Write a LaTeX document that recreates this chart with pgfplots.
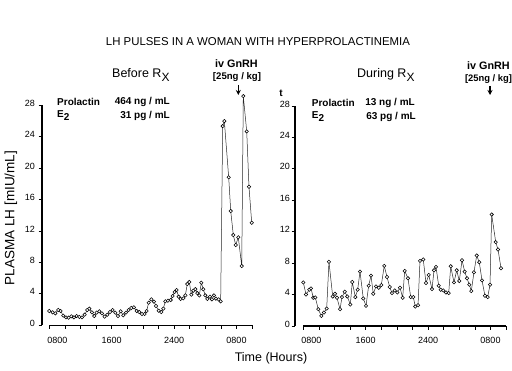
\documentclass[border=0pt]{standalone}
\usepackage{fontspec}
\setmainfont{Liberation Sans}
\usepackage{pgfplots}
\pgfplotsset{compat=1.18}
\usepackage{pgfplotstable}
\usetikzlibrary{arrows.meta}

\pgfplotstableread{
h v
8.00 1.82
8.43 1.65
8.77 1.52
9.15 1.95
9.45 1.82
9.79 1.23
10.14 1.01
10.48 0.97
10.82 1.14
11.16 1.01
11.50 1.18
11.85 1.06
12.19 1.01
12.53 1.35
12.87 1.95
13.13 2.12
13.47 1.65
13.77 1.18
14.07 1.61
14.41 1.78
14.75 1.52
15.09 1.10
15.44 1.35
15.78 1.69
16.12 1.95
16.46 1.61
16.80 1.18
17.15 1.78
17.49 1.27
17.83 1.61
18.17 1.95
18.51 2.20
18.85 2.29
19.20 1.82
19.54 1.69
19.88 1.44
20.22 1.44
20.48 1.82
20.74 2.88
21.08 3.30
21.42 3.01
21.68 2.46
22.02 1.86
22.36 1.69
22.62 2.12
22.87 3.05
23.21 3.13
23.56 3.22
23.81 3.73
24.07 4.24
24.32 4.49
24.58 3.64
24.84 3.35
25.18 3.43
25.44 3.81
25.69 5.25
25.95 5.51
26.21 3.90
26.46 4.40
26.72 4.60
26.97 4.10
27.23 3.80
27.49 5.42
27.74 4.58
28.00 3.81
28.26 3.35
28.60 3.64
28.85 3.30
29.11 3.81
29.37 3.39
29.71 3.30
29.97 3.05
30.23 25.35
30.44 25.99
31.00 18.83
31.26 14.54
31.59 11.49
31.90 10.22
32.23 11.20
32.67 7.54
32.87 29.17
33.31 24.68
33.60 17.63
33.95 13.05
}\leftdata

\pgfplotstableread{
h v
8.00 5.55
8.35 4.01
8.77 4.62
8.99 4.79
9.28 3.59
9.54 3.63
9.92 2.14
10.31 1.28
10.65 1.71
11.00 2.22
11.29 8.17
11.77 3.76
12.06 4.10
12.32 3.59
12.71 2.14
12.96 3.68
13.31 4.36
13.64 3.76
14.03 2.73
14.28 5.60
14.67 3.68
14.97 4.62
15.27 6.92
15.69 3.50
16.04 2.56
16.38 5.13
16.68 6.41
16.97 4.10
17.32 5.04
17.67 4.87
18.00 5.21
18.38 7.65
18.73 6.24
19.08 4.96
19.37 4.19
19.72 4.53
20.05 4.27
20.40 4.87
20.74 3.59
21.00 7.01
21.42 6.07
21.77 3.68
22.10 3.68
22.36 2.48
22.71 2.65
22.96 8.29
23.38 8.46
23.73 5.47
24.08 6.50
24.50 4.70
24.76 7.09
25.01 7.52
25.36 5.13
25.62 4.62
25.95 4.53
26.29 4.27
26.64 4.19
26.90 7.60
27.32 5.55
27.67 7.09
28.00 5.73
28.35 8.37
28.69 6.92
28.99 6.07
29.28 5.26
29.54 4.45
29.88 6.83
30.23 8.97
30.56 8.12
30.91 5.81
31.29 3.85
31.64 3.68
31.94 5.26
32.15 14.19
32.67 10.68
32.96 9.74
33.35 7.35
}\rightdata

\begin{document}
\begin{tikzpicture}[x=1pt,y=1pt]
\useasboundingbox (0pt,0pt) rectangle (512pt,370pt);
\pgfplotsset{
  panel/.style={
    scale only axis, anchor=south west, height=220pt,
    ymin=0, ymax=28, xmax=34, clip=false,
    axis line style={draw=none},
    tick align=outside, xtick pos=bottom, ytick pos=left,
    xtick={8,10,...,34},
    xticklabels={\makebox[0pt][l]{\hspace{-2pt}0800},,,,1600,,,,2400,,,,0800,,},
    ytick={0,4,...,28},
    major tick length=3.5pt,
    tick style={black, line width=0.8pt},
    tick label style={font=\fontsize{9}{10}\selectfont},
    xticklabel style={yshift=-4.5pt},
    yticklabel style={yshift=2pt},
    /pgf/number format/assume math mode=true,
  },
  pts/.style={black!85, line width=0.5pt, mark=*, mark size=1.7pt,
    mark options={fill=white, draw=black, line width=0.55pt}},
}
% left panel
\begin{axis}[panel, at={(42pt,44.7pt)}, width=210.1pt, xmin=7.064]
\draw[line width=1.8pt] (rel axis cs:0,0) -- (rel axis cs:0,1);
\draw[line width=1.4pt] (axis cs:8,0) -- (axis cs:34,0);
\addplot[pts] table[x=h,y=v] {\leftdata};
\end{axis}
% right panel
\begin{axis}[panel, at={(295pt,44pt)}, width=211.1pt, xmin=6.936,
  yticklabel style={xshift=2pt}]
\draw[line width=1.8pt] (rel axis cs:0,0) -- (rel axis cs:0,1);
\draw[line width=1.4pt] (axis cs:8,0) -- (axis cs:34,0);
\addplot[pts] table[x=h,y=v] {\rightdata};
\end{axis}

% title and labels
\node[font=\fontsize{11.4}{13}\selectfont] at (258pt,328pt) {LH PULSES IN A WOMAN WITH HYPERPROLACTINEMIA};
\node[rotate=90, font=\fontsize{13.5}{15}\selectfont] at (11pt,152pt) {PLASMA LH [mIU/mL]};
\node[font=\fontsize{12.5}{14}\selectfont] at (271pt,12pt) {Time (Hours)};

% panel headings
\node[anchor=west, font=\fontsize{12.5}{14}\selectfont, inner sep=0pt] at (112pt,295pt) {Before R\raisebox{-0.55ex}{\fontsize{12}{13}\selectfont X}};
\node[anchor=west, font=\fontsize{12.5}{14}\selectfont, inner sep=0pt] at (357pt,295pt) {During R\raisebox{-0.55ex}{\fontsize{12}{13}\selectfont X}};

% hormone values, left
\begin{scope}[font=\fontsize{10}{12}\selectfont\bfseries]
\node[anchor=west, inner sep=0pt] at (57pt,268.3pt) {Prolactin};
\node[anchor=east, inner sep=0pt] at (170pt,268.3pt) {464 ng / mL};
\node[anchor=west, inner sep=0pt] at (57pt,254.5pt) {E\raisebox{-0.45ex}{2}};
\node[anchor=east, inner sep=0pt] at (170pt,254.5pt) {31 pg / mL};
% right
\node[anchor=west, inner sep=0pt] at (311.7pt,267.3pt) {Prolactin};
\node[anchor=east, inner sep=0pt] at (415pt,267.3pt) {13 ng / mL};
\node[anchor=west, inner sep=0pt] at (311.7pt,253.5pt) {E\raisebox{-0.45ex}{2}};
\node[anchor=east, inner sep=0pt] at (416pt,253.5pt) {63 pg / mL};
% GnRH annotations
\node[inner sep=0pt, font=\fontsize{10.8}{12}\selectfont\bfseries] at (236.5pt,306pt) {iv GnRH};
\node[inner sep=0pt, font=\fontsize{9.6}{11}\selectfont\bfseries] at (237pt,293pt) {[25ng / kg]};
\node[inner sep=0pt, font=\fontsize{10.8}{12}\selectfont\bfseries] at (488.5pt,304pt) {iv GnRH};
\node[inner sep=0pt, font=\fontsize{9.4}{11}\selectfont\bfseries] at (488.5pt,291pt) {[25ng / kg]};
\node[inner sep=0pt] at (281pt,277pt) {t};
\end{scope}
\draw[line width=1.2pt, -{Stealth[length=5pt,width=5pt]}] (238.3pt,285pt) -- (238.3pt,275pt);
\draw[line width=1.2pt, -{Stealth[length=5pt,width=5pt]}] (490pt,284pt) -- (490pt,275pt);
\end{tikzpicture}
\end{document}
